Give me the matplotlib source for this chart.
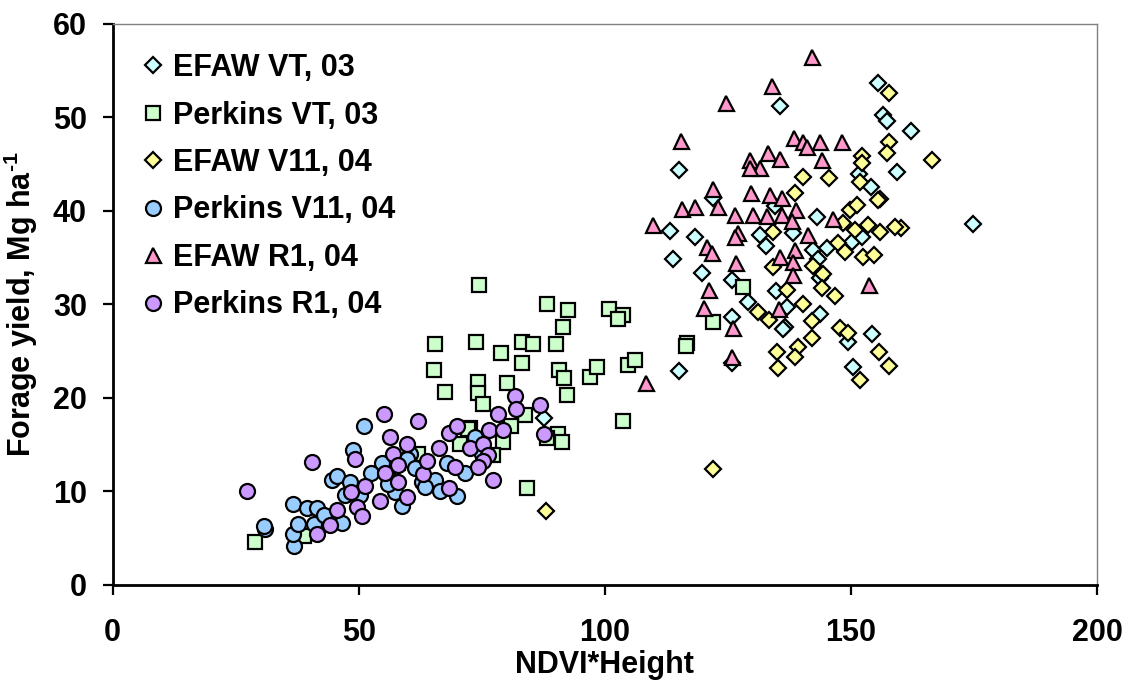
import matplotlib
matplotlib.use("Agg")
import matplotlib.pyplot as plt

plt.rcParams['font.family'] = ['Liberation Sans', 'DejaVu Sans']
plt.rcParams['font.weight'] = 'bold'
plt.rcParams['mathtext.fontset'] = 'custom'
plt.rcParams['mathtext.rm'] = 'Liberation Sans:bold'
plt.rcParams['mathtext.bf'] = 'Liberation Sans:bold'
plt.rcParams['mathtext.it'] = 'Liberation Sans:bold'

# ---------------- data ----------------
efaw_vt03_x = [155.5, 135.6, 156.5, 157.3, 162.2, 159.3, 151.6, 154.0, 156.0, 115.0, 122.0,
               113.2, 118.3, 113.8, 119.7, 125.8, 129.0, 125.8, 115.0, 125.8, 131.5, 132.7,
               138.2, 143.1, 142.3, 145.1, 143.3, 143.7, 134.8, 137.0, 136.6, 143.7, 149.5,
               150.2, 152.2, 154.3, 150.4, 174.8, 87.6, 134.5, 136.2]
efaw_vt03_y = [53.7, 51.2, 50.3, 49.6, 48.5, 44.2, 44.0, 42.6, 41.3, 44.4, 41.4,
               37.9, 37.2, 34.9, 33.4, 32.6, 30.3, 28.7, 22.9, 23.7, 37.4, 36.3,
               37.6, 39.4, 35.8, 36.0, 34.9, 32.8, 31.4, 29.7, 27.6, 29.0, 26.0,
               36.7, 37.2, 26.8, 23.3, 38.6, 17.9, 40.5, 27.4]

perkins_vt03_x = [28.9, 38.8, 74.4, 88.2, 92.5, 100.8, 103.7, 102.6, 91.5, 90.0, 83.1, 85.4,
                  65.4, 73.8, 79.0, 83.1, 65.2, 67.5, 74.2, 74.2, 75.2, 80.1, 83.7, 90.7,
                  91.7, 92.3, 97.0, 98.4, 104.7, 106.1, 103.7, 90.4, 91.3, 88.2, 84.1, 116.7,
                  116.5, 122.0, 128.0, 80.9, 79.3, 77.2, 72.6, 72.2, 70.5, 62.0, 58.0]
perkins_vt03_y = [4.6, 5.2, 32.1, 30.1, 29.4, 29.5, 28.9, 28.5, 27.6, 25.8, 26.0, 25.8,
                  25.8, 26.0, 24.8, 23.7, 23.0, 20.6, 21.7, 20.5, 19.4, 21.6, 18.2, 23.0,
                  22.1, 20.3, 22.2, 23.3, 23.5, 24.1, 17.5, 16.2, 15.3, 15.7, 10.4, 25.9,
                  25.6, 28.1, 31.9, 17.0, 15.3, 13.9, 16.8, 16.7, 15.1, 14.0, 13.0]

efaw_v11_04_x = [157.7, 157.7, 157.3, 166.5, 152.2, 152.2, 151.8, 155.5, 149.8, 151.2, 153.5,
                 155.9, 160.2, 159.0, 150.8, 148.4, 147.4, 148.8, 152.4, 154.7, 140.2, 145.5,
                 138.6, 134.1, 134.1, 142.3, 144.3, 144.1, 146.7, 137.0, 140.2, 131.1, 133.3,
                 142.1, 142.1, 139.2, 138.6, 135.0, 135.2, 147.8, 149.4, 155.7, 151.8, 157.7,
                 122.0, 88.0]
efaw_v11_04_y = [52.6, 47.4, 46.2, 45.5, 45.9, 45.1, 43.1, 41.2, 40.1, 40.6, 38.5,
                 37.8, 38.2, 38.3, 38.0, 38.7, 36.6, 35.6, 35.1, 35.3, 43.6, 43.5,
                 41.9, 37.7, 34.0, 34.1, 33.3, 31.8, 30.9, 31.5, 30.0, 29.2, 28.3,
                 28.2, 26.4, 25.4, 24.4, 24.9, 23.2, 27.5, 26.9, 24.9, 21.9, 23.4,
                 12.4, 7.9]

perkins_v11_04_x = [30.9, 30.7, 36.8, 36.6, 37.6, 36.6, 39.4, 41.5, 41.0, 44.5, 45.5, 46.5,
                    48.2, 47.2, 50.2, 48.8, 51.0, 54.7, 55.9, 57.3, 58.7, 60.4, 62.8, 65.4,
                    63.4, 59.8, 67.9, 69.9, 73.6, 43.0, 52.5, 56.0, 61.5, 66.5, 71.5, 75.0]
perkins_v11_04_y = [6.0, 6.3, 4.2, 5.5, 6.5, 8.7, 8.2, 8.2, 6.5, 11.2, 11.7, 6.6,
                    11.0, 9.6, 9.6, 14.4, 17.0, 13.0, 11.5, 9.9, 8.5, 14.0, 11.0, 11.2,
                    10.5, 13.5, 13.0, 9.5, 15.8, 7.5, 12.0, 10.8, 12.5, 10.0, 12.0, 14.0]

efaw_r1_04_x = [142.1, 133.9, 124.6, 115.4, 138.4, 140.2, 143.7, 148.2, 141.0, 133.1, 135.6,
                129.5, 131.5, 129.5, 144.1, 122.0, 129.7, 133.5, 136.0, 115.7, 118.3, 123.0,
                126.4, 130.1, 132.9, 136.0, 138.8, 138.0, 146.3, 109.8, 127.0, 126.4, 141.3,
                120.8, 121.7, 138.6, 135.6, 138.2, 138.2, 126.7, 121.2, 120.1, 135.3, 126.0,
                125.8, 108.3, 153.7]
efaw_r1_04_y = [56.5, 53.4, 51.6, 47.5, 47.8, 47.4, 47.4, 47.4, 46.8, 46.2, 45.6,
                45.5, 44.6, 44.6, 45.4, 42.4, 41.9, 41.7, 41.4, 40.2, 40.4, 40.4,
                39.6, 39.6, 39.5, 39.6, 40.1, 38.9, 39.1, 38.5, 37.6, 37.2, 37.4,
                36.1, 35.5, 35.8, 35.1, 34.5, 33.2, 34.4, 31.5, 29.6, 29.5, 27.5,
                24.4, 21.6, 32.1]

perkins_r1_04_x = [27.2, 40.6, 55.1, 62.0, 49.2, 56.3, 59.8, 57.0, 58.0, 55.3, 58.0, 63.0,
                   63.8, 66.3, 68.3, 69.9, 72.6, 69.5, 68.3, 59.8, 54.3, 51.2, 45.5, 48.4,
                   49.6, 44.1, 41.5, 50.6, 81.7, 81.9, 86.8, 78.3, 87.6, 76.4, 79.3, 75.2,
                   76.2, 75.2, 74.2, 77.2]
perkins_r1_04_y = [10.1, 13.1, 18.3, 17.5, 13.5, 15.8, 15.1, 14.0, 12.8, 12.0, 11.0, 11.9,
                   13.3, 14.7, 16.3, 17.0, 14.6, 12.6, 10.4, 9.4, 9.0, 10.6, 8.0, 9.9,
                   8.3, 6.4, 5.5, 7.4, 20.2, 18.8, 19.3, 18.3, 16.2, 16.6, 16.6, 15.1,
                   13.9, 13.3, 12.6, 11.2]

series_labels = ["EFAW VT, 03", "Perkins VT, 03", "EFAW V11, 04",
                 "Perkins V11, 04", "EFAW R1, 04", "Perkins R1, 04"]
x_ticks = [0, 50, 100, 150, 200]
y_ticks = [0, 10, 20, 30, 40, 50, 60]

# ---------------- plot ----------------
fig = plt.figure(figsize=(11.30, 6.81), dpi=100)
ax = fig.add_axes([0.0997, 0.1410, 0.8711, 0.8238])

styles = [
    (efaw_vt03_x, efaw_vt03_y, 'D', '#CCFFFF', 8.3),
    (perkins_vt03_x, perkins_vt03_y, 's', '#CCFFCC', 10.5),
    (efaw_v11_04_x, efaw_v11_04_y, 'D', '#FFFF99', 8.3),
    (perkins_v11_04_x, perkins_v11_04_y, 'o', '#99CCFF', 10.8),
    (efaw_r1_04_x, efaw_r1_04_y, '^', '#FF99CC', 10.8),
    (perkins_r1_04_x, perkins_r1_04_y, 'o', '#CC99FF', 10.8),
]
for (xs, ys, m, c, ms), lab in zip(styles, series_labels):
    ax.plot(xs, ys, linestyle='none', marker=m, markersize=ms, markerfacecolor=c,
            markeredgecolor='black', markeredgewidth=1.6, label=lab, clip_on=False)

ax.set_xlim(0, 200)
ax.set_ylim(0, 60)
ax.set_xticks(x_ticks)
ax.set_yticks(y_ticks)
ax.tick_params(axis='x', direction='out', length=7.5, width=1.6, pad=16, labelsize=22)
ax.tick_params(axis='y', direction='out', length=7.5, width=1.6, pad=11, labelsize=22)
for lbl in ax.get_xticklabels() + ax.get_yticklabels():
    lbl.set_fontweight('bold')

ax.spines['left'].set_linewidth(2.0)
ax.spines['bottom'].set_linewidth(2.0)
ax.spines['top'].set_color('#808080')
ax.spines['right'].set_color('#808080')
ax.spines['top'].set_linewidth(1.0)
ax.spines['right'].set_linewidth(1.0)

ax.set_xlabel('NDVI*Height', fontsize=22, fontweight='bold', labelpad=2)
ax.set_ylabel(r'Forage yield, Mg ha$^{\text{-1}}$', fontsize=22, fontweight='bold', labelpad=9)

leg = ax.legend(loc='upper left', bbox_to_anchor=(0.0283, 0.948), frameon=False,
                fontsize=22, handletextpad=0.25, labelspacing=0.57, handlelength=0.8,
                borderaxespad=0.0, borderpad=0.0, markerscale=1.0)
for t in leg.get_texts():
    t.set_fontweight('bold')

fig.savefig('out.png', dpi=100)
